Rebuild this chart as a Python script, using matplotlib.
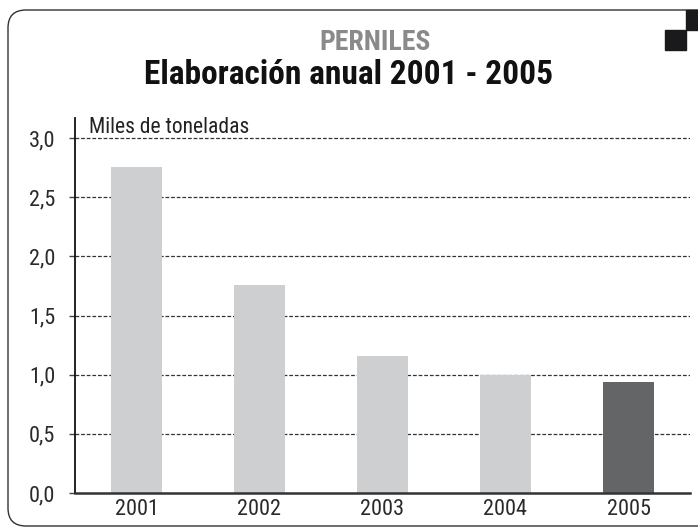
import matplotlib.pyplot as plt
from matplotlib.patches import FancyBboxPatch, Rectangle

# datos
years = ['2001', '2002', '2003', '2004', '2005']
values = [2.76, 1.76, 1.16, 1.0, 0.935]
bar_colors = ['#cdcfd1', '#cdcfd1', '#cdcfd1', '#cdcfd1', '#646567']
yticks = [0.0, 0.5, 1.0, 1.5, 2.0, 2.5, 3.0]
ytick_labels = ['0,0', '0,5', '1,0', '1,5', '2,0', '2,5', '3,0']

W, H = 698, 529
NARROW = ['Roboto Condensed', 'Liberation Sans Narrow', 'Liberation Sans', 'DejaVu Sans']

fig = plt.figure(figsize=(W / 100, H / 100), dpi=100)

# capa de fondo en coordenadas de pixel
bg = fig.add_axes([0, 0, 1, 1], zorder=0)
bg.set_xlim(0, W)
bg.set_ylim(H, 0)
bg.axis('off')
bg.add_patch(FancyBboxPatch((8, 10), 740, 516,
                            boxstyle='round,pad=0,rounding_size=18',
                            fill=False, edgecolor='#333333', linewidth=1.0))
bg.add_patch(Rectangle((686, 10), 14, 20, color='#1a1a1c'))
bg.add_patch(Rectangle((665, 30), 21, 20, color='#1a1a1c'))
bg.text(375, 43, 'PERNILES', ha='center', va='center', fontsize=20,
        fontweight='bold', color='#8a8a8a', family=NARROW)
bg.text(349, 75, 'Elaboración anual 2001 - 2005', ha='center', va='center',
        fontsize=24, fontweight='bold', color='#111111', family=NARROW)

# grafico
ax = fig.add_axes([75 / W, (H - 493) / H, (690 - 75) / W, (493 - 118) / H], zorder=1)
ax.patch.set_alpha(0)
x = range(len(years))
ax.bar(x, values, width=0.41, color=bar_colors, zorder=2)
ax.set_xlim(-0.5, 4.5)
ax.set_ylim(0, 3.17)
ax.set_xticks(list(x))
ax.set_xticklabels(years, family=NARROW, fontsize=16, color='#2a2a2a')
ax.set_yticks(yticks)
ax.set_yticklabels(ytick_labels, family=NARROW, fontsize=16, color='#2a2a2a')
ax.tick_params(axis='x', length=0, pad=4)
ax.tick_params(axis='y', length=4, width=1, direction='out', pad=10, color='#444444')
for t in yticks[1:]:
    ax.axhline(t, color='#333333', linestyle=(0, (3, 1.5)), linewidth=0.9, zorder=1)
for s in ['top', 'right']:
    ax.spines[s].set_visible(False)
ax.spines['left'].set_color('#111111')
ax.spines['left'].set_linewidth(1.3)
ax.spines['bottom'].set_color('#333333')
ax.spines['bottom'].set_linewidth(1.8)
ax.text(0.022, 3.045, 'Miles de toneladas', transform=ax.get_yaxis_transform(),
        ha='left', va='baseline', fontsize=15.5, family=NARROW, color='#222222')

fig.savefig('out.png', dpi=100)
